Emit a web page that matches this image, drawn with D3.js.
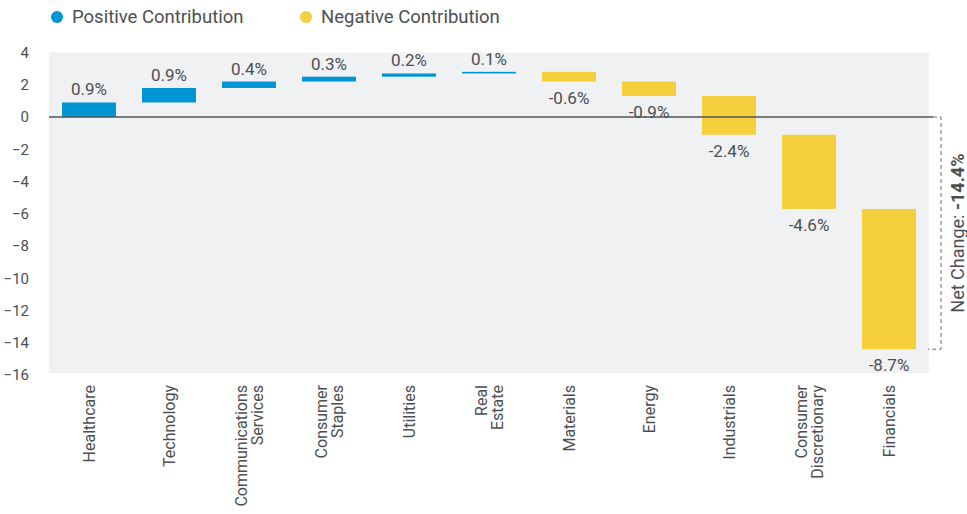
<!DOCTYPE html>
<html>
<head>
<meta charset="utf-8">
<script src="https://cdn.jsdelivr.net/npm/d3@7"></script>
<style>
  html, body { margin: 0; padding: 0; background: #ffffff; }
  svg { display: block; font-family: Roboto, "Liberation Sans", Arial, sans-serif; }
</style>
</head>
<body>
<svg id="chart" width="967" height="514"></svg>
<script>
// ---- data ----
const categories = [
  ["Healthcare"], ["Technology"], ["Communications", "Services"], ["Consumer", "Staples"],
  ["Utilities"], ["Real", "Estate"], ["Materials"], ["Energy"], ["Industrials"],
  ["Consumer", "Discretionary"], ["Financials"]
];
const values = [0.9, 0.9, 0.4, 0.3, 0.2, 0.1, -0.6, -0.9, -2.4, -4.6, -8.7];
const valueLabels = ["0.9%", "0.9%", "0.4%", "0.3%", "0.2%", "0.1%", "-0.6%", "-0.9%", "-2.4%", "-4.6%", "-8.7%"];
const yTicks = [4, 2, 0, -2, -4, -6, -8, -10, -12, -14, -16];
const legendItems = ["Positive Contribution", "Negative Contribution"];
const netChangeLabel = "Net Change:";
const netChangeValue = "-14.4%";

// ---- styles ----
const BLUE = "#0096d6", YELLOW = "#f6cf3c", TEXT = "#4b4f53", BG = "#f0f1f3";

const svg = d3.select("#chart");
const names = categories.map(c => c.join(" "));

const x = d3.scaleBand().domain(names).range([49, 929]).paddingInner(0.325).paddingOuter(0.1625);
const y = d3.scaleLinear().domain([-16, 4]).range([375, 52.5]);

// waterfall
let cum = 0;
const bars = values.map((v, i) => {
  const start = cum; cum += v;
  return { name: names[i], v, start, end: cum, label: valueLabels[i], lines: categories[i] };
});
const finalVal = cum;

// background
svg.append("rect").attr("x", 49).attr("y", y(4)).attr("width", 880).attr("height", 373 - y(4)).attr("fill", BG);

// y axis
const yAxis = d3.axisLeft(y).tickValues(yTicks).tickSize(0).tickPadding(0).tickFormat(d3.format("d"));
const ya = svg.append("g").attr("transform", "translate(29,0)").call(yAxis);
ya.select(".domain").remove();
ya.selectAll("text").attr("fill", TEXT).style("font-size", "15px")
  .style("font-family", "Roboto, 'Liberation Sans', Arial, sans-serif");

// bars
svg.append("g").selectAll("rect").data(bars).join("rect")
  .attr("x", d => x(d.name))
  .attr("width", x.bandwidth())
  .attr("y", d => y(Math.max(d.start, d.end)))
  .attr("height", d => Math.max(1.2, Math.abs(y(d.start) - y(d.end))))
  .attr("fill", d => d.v >= 0 ? BLUE : YELLOW);

// bar labels
svg.append("g").selectAll("text").data(bars).join("text")
  .attr("x", d => x(d.name) + x.bandwidth() / 2)
  .attr("y", d => d.v >= 0 ? y(d.end) - 7 : y(d.end) + 22)
  .attr("text-anchor", "middle")
  .attr("fill", TEXT)
  .style("font-size", "17px")
  .text(d => d.label);

// zero line
svg.append("line").attr("x1", 49).attr("x2", 933).attr("y1", y(0)).attr("y2", y(0))
  .attr("stroke", "#50555a").attr("stroke-width", 1.6);

// x labels
const xl = svg.append("g").selectAll("g").data(bars).join("g")
  .attr("transform", d => `translate(${x(d.name) + x.bandwidth() / 2},385) rotate(-90)`);
xl.each(function(d) {
  const t = d3.select(this).append("text").attr("text-anchor", "end").attr("fill", TEXT).style("font-size", "16px");
  const n = d.lines.length;
  d.lines.forEach((ln, i) => {
    t.append("tspan").attr("x", 0).attr("y", (i - (n - 1) / 2) * 16).attr("dy", "0.35em").text(ln);
  });
});

// net change bracket
const yTop = y(0), yBot = y(finalVal);
svg.append("path")
  .attr("d", `M933,${yTop} H941 V${yBot} H928`)
  .attr("fill", "none").attr("stroke", "#6a6d70").attr("stroke-width", 1).attr("stroke-dasharray", "4,3");
const nt = svg.append("text")
  .attr("transform", `translate(958,${(yTop + yBot) / 2}) rotate(-90)`)
  .attr("text-anchor", "middle").attr("dy", "0.35em").attr("fill", TEXT).style("font-size", "18px");
nt.append("tspan").text(netChangeLabel + " ");
nt.append("tspan").attr("font-weight", "bold").text(netChangeValue);

// legend
const lg = svg.append("g");
const legendX = [57, 306];
legendItems.forEach((name, i) => {
  lg.append("circle").attr("cx", legendX[i]).attr("cy", 17).attr("r", 6).attr("fill", i === 0 ? BLUE : YELLOW);
  lg.append("text").attr("x", legendX[i] + 15).attr("y", 17).attr("dy", "0.35em")
    .attr("fill", TEXT).style("font-size", "18.5px").text(name);
});
</script>
</body>
</html>
